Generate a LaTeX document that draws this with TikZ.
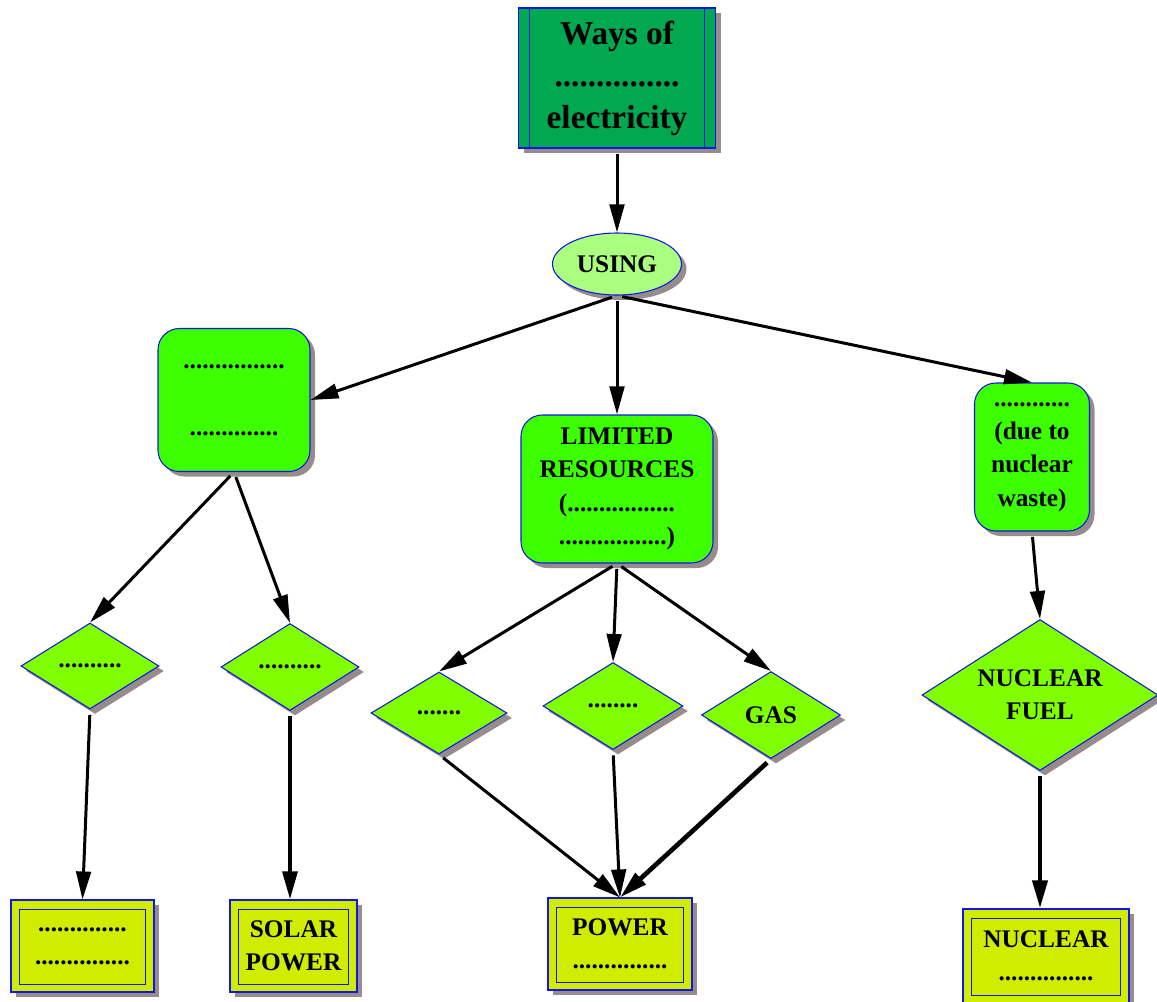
\documentclass[tikz,border=0pt]{standalone}
\usepackage{fontspec}
\setmainfont{Liberation Serif}
\usepackage{tikz}
\usetikzlibrary{shapes.geometric,shadows,arrows.meta,calc}
\definecolor{headgreen}{RGB}{0,168,80}
\definecolor{usinggreen}{RGB}{170,255,128}
\definecolor{boxgreen}{RGB}{60,255,0}
\definecolor{diamgreen}{RGB}{128,255,0}
\definecolor{endyellow}{RGB}{208,236,0}
\definecolor{shadegray}{RGB}{150,140,140}
\definecolor{rimblue}{RGB}{20,20,230}
\tikzset{every picture/.style={line width=0.75pt}}
\tikzset{
  dropgray/.style={drop shadow={shadow xshift=3.75pt,shadow yshift=-3.75pt,fill=shadegray,opacity=1}},
  basenode/.style={draw=rimblue,line width=0.8pt,align=center,inner sep=2pt,dropgray,
    font=\bfseries\fontsize{19}{25}\selectfont},
  headbox/.style={basenode,rectangle,fill=headgreen,minimum width=147.75pt,minimum height=105pt,
    font=\bfseries\fontsize{25}{31.5}\selectfont},
  usingoval/.style={basenode,ellipse,fill=usinggreen,minimum width=96.75pt,minimum height=46.5pt},
  roundbox/.style={basenode,rectangle,rounded corners=16pt,fill=boxgreen},
  choice/.style={basenode,diamond,aspect=1.6,inner sep=0pt,fill=diamgreen},
  endbox/.style={basenode,rectangle,fill=endyellow},
  link/.style={-{Triangle[length=21pt,width=11pt]},line width=2.25pt,shorten <=4pt},
  heavylink/.style={link,line width=3.5pt}
}

\begin{document}
\begin{tikzpicture}[x=0.75pt,y=0.75pt,yscale=-1,xscale=1]
\useasboundingbox (0,0) rectangle (1157,1001);

%Shape: Rectangle
\node[headbox] (ways) at (617,78) {Ways of\\...............\\electricity};
\draw[rimblue] ($(ways.north west)+(12,0)$) -- ($(ways.south west)+(12,0)$);
\draw[rimblue] ($(ways.north east)+(-12,0)$) -- ($(ways.south east)+(-12,0)$);
%Shape: Ellipse
\node[usingoval] (using) at (617,264) {USING};

%Shape: Rounded Rectangle
\node[roundbox,minimum width=114pt,minimum height=107.25pt] (sustain) at (234,400)
  {................\\[25pt]..............};
\node[roundbox,minimum width=144pt,minimum height=111pt] (limited) at (617,489)
  {LIMITED\\RESOURCES\\(.................\\.................)};
\node[roundbox,minimum width=86.25pt,minimum height=111pt] (unsafe) at (1032,457)
  {............\\(due to\\nuclear\\waste)};

%Shape: Diamond
\node[choice,minimum width=103.5pt,minimum height=64.5pt] (wind) at (90,666) {..........};
\node[choice,minimum width=103.5pt,minimum height=65.25pt] (sun) at (290,667) {..........};
\node[choice,minimum width=102pt,minimum height=61.5pt] (coal) at (439,713) {.......};
\node[choice,minimum width=105pt,minimum height=65.25pt] (oil) at (613,706) {........};
\node[choice,minimum width=104.25pt,minimum height=65.25pt] (gas) at (771,715) {GAS};
\node[choice,minimum width=177pt,minimum height=113.25pt] (fuel) at (1040,695) {NUCLEAR\\FUEL};

%Shape: Double Rectangle
\node[endbox,minimum width=107.25pt,minimum height=69pt] (outwind) at (82.5,946)
  {..............\\...............};
\node[endbox,minimum width=95.25pt,minimum height=69pt] (outsun) at (293.5,946) {SOLAR\\POWER};
\node[endbox,minimum width=108pt,minimum height=69pt] (outpower) at (620,944) {POWER\\...............};
\node[endbox,minimum width=124.5pt,minimum height=70.5pt] (outnuke) at (1046,956) {NUCLEAR\\...............};
\foreach \b in {outwind,outsun,outpower,outnuke}
  \draw[rimblue] ($(\b.north west)+(9,10)$) rectangle ($(\b.south east)+(-9,-8)$);

%Straight Lines
\draw[link] (ways.south) -- (using.north);
\draw[link] (using.south) -- (sustain.east);
\draw[link] (using.south) -- (limited.north);
\draw[link] (using.south) -- (unsafe.north);
\draw[link] (sustain.south) -- (wind.north);
\draw[link] (sustain.south) -- (sun.north);
\draw[link] (limited.south) -- (coal.north);
\draw[link] (limited.south) -- (oil.north);
\draw[link] (limited.south) -- (gas.north);
\draw[link] (unsafe.south) -- (fuel.north);
\draw[link] (wind.south) -- (outwind.north);
\draw[link,line width=3pt] (sun.south) -- (sun.south |- outsun.north);
\draw[link] (coal.south) -- (outpower.north);
\draw[link] (oil.south) -- (outpower.north);
\draw[heavylink] (gas.south) -- (outpower.north);
\draw[heavylink] (fuel.south) -- (fuel.south |- outnuke.north);

\end{tikzpicture}
\end{document}
